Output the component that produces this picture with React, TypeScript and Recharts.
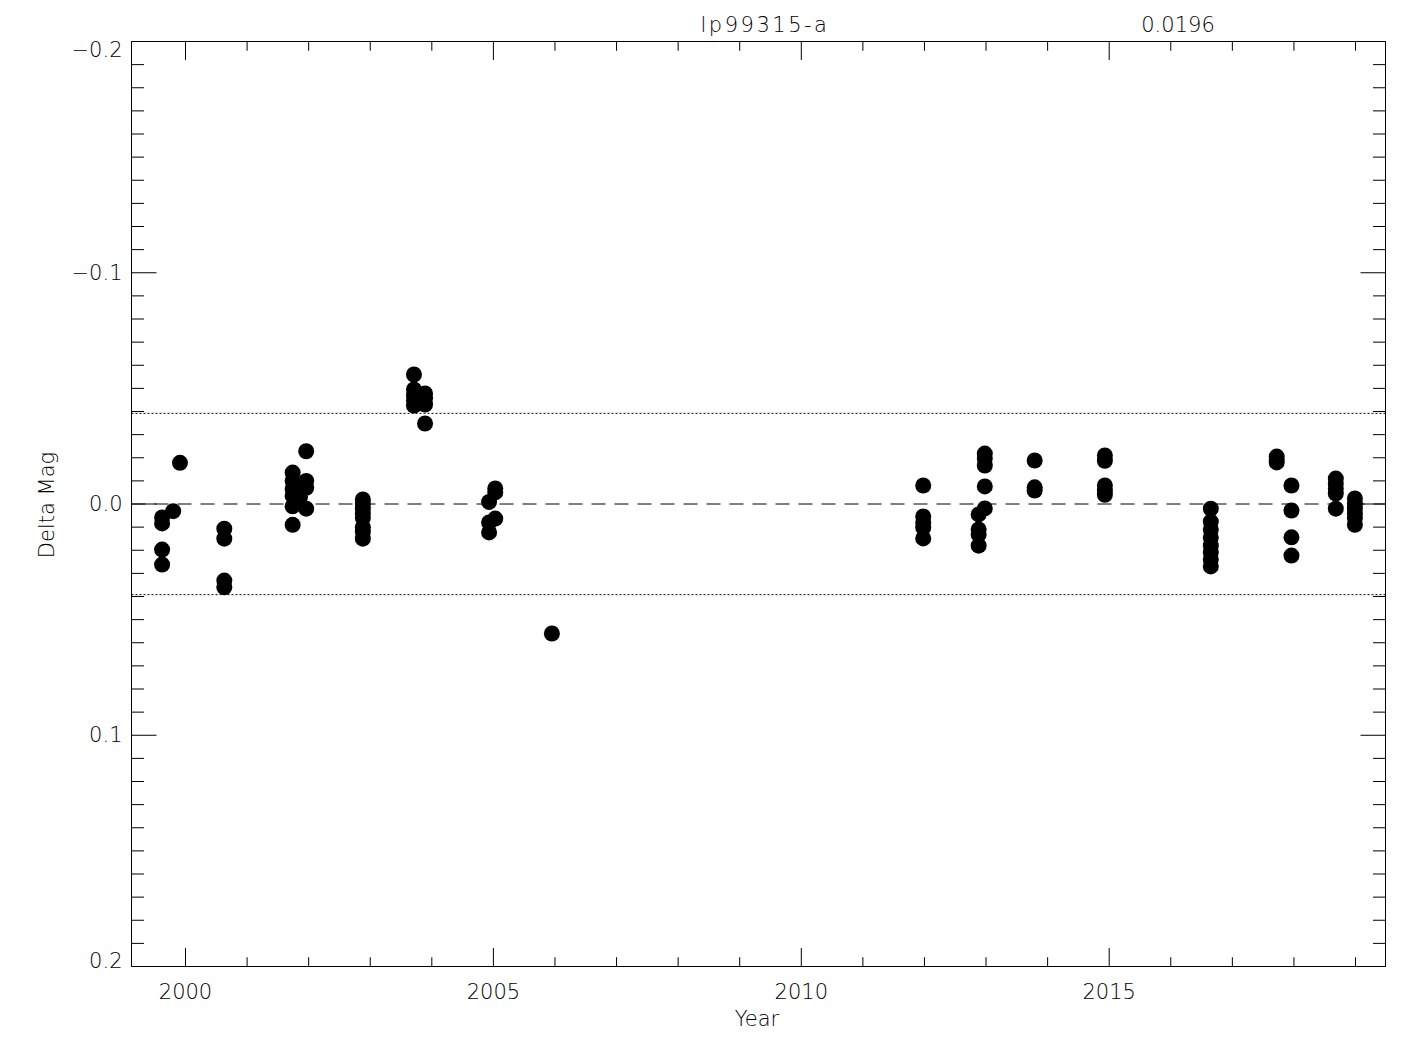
import React from 'react';
import { ScatterChart, Scatter, XAxis, YAxis, ReferenceLine } from 'recharts';

const YEARS: number[] = [
  1999.62, 1999.62, 1999.62, 1999.62,
  1999.80, 1999.91,
  2000.63, 2000.63, 2000.63, 2000.63,
  2001.74, 2001.74, 2001.74, 2001.74, 2001.74, 2001.74,
  2001.86,
  2001.96, 2001.96, 2001.96, 2001.96,
  2002.88, 2002.88, 2002.88, 2002.88, 2002.88, 2002.88, 2002.88, 2002.88,
  2003.71, 2003.71, 2003.71, 2003.71, 2003.71,
  2003.89, 2003.89, 2003.89, 2003.89,
  2004.93, 2004.93, 2004.93,
  2005.03, 2005.03, 2005.03,
  2005.95,
  2011.98, 2011.98, 2011.98, 2011.98, 2011.98,
  2012.98, 2012.98, 2012.98, 2012.98, 2012.98,
  2012.88, 2012.88, 2012.88, 2012.88,
  2013.79, 2013.79, 2013.79,
  2014.93, 2014.93, 2014.93, 2014.93, 2014.93,
  2016.65, 2016.65, 2016.65, 2016.65, 2016.65, 2016.65, 2016.65, 2016.65,
  2017.72, 2017.72, 2017.72,
  2017.96, 2017.96, 2017.96, 2017.96,
  2018.68, 2018.68, 2018.68, 2018.68, 2018.68,
  2018.99, 2018.99, 2018.99, 2018.99, 2018.99, 2018.99,
];

const DELTA_MAG: number[] = [
  0.0058, 0.0084, 0.0197, 0.0262,
  0.0031, -0.0178,
  0.0107, 0.0150, 0.0331, 0.0360,
  -0.0136, -0.0100, -0.0065, -0.0035, 0.0010, 0.0090,
  -0.0030,
  -0.0228, -0.0100, -0.0070, 0.0020,
  -0.0020, 0.0000, 0.0020, 0.0040, 0.0060, 0.0100, 0.0120, 0.0150,
  -0.0560, -0.0495, -0.0469, -0.0448, -0.0426,
  -0.0478, -0.0456, -0.0430, -0.0348,
  -0.0009, 0.0080, 0.0123,
  -0.0067, -0.0050, 0.0063,
  0.0560,
  -0.0080, 0.0054, 0.0080, 0.0102, 0.0149,
  -0.0218, -0.0197, -0.0166, -0.0076, 0.0019,
  0.0045, 0.0110, 0.0132, 0.0180,
  -0.0188, -0.0072, -0.0058,
  -0.0210, -0.0187, -0.0080, -0.0058, -0.0040,
  0.0020, 0.0076, 0.0110, 0.0145, 0.0180, 0.0210, 0.0240, 0.0270,
  -0.0205, -0.0190, -0.0180,
  -0.0080, 0.0028, 0.0144, 0.0223,
  -0.0110, -0.0089, -0.0067, -0.0045, 0.0020,
  -0.0024, 0.0000, 0.0020, 0.0040, 0.0060, 0.0090,
];

const X_DOMAIN: [number, number] = [1999.123, 2019.487];
const Y_DOMAIN: [number, number] = [-0.2, 0.2];
const X_TICKS: number[] = [
  2000, 2001, 2002, 2003, 2004, 2005, 2006, 2007, 2008, 2009,
  2010, 2011, 2012, 2013, 2014, 2015, 2016, 2017, 2018, 2019,
];
const X_MAJOR: number[] = [2000, 2005, 2010, 2015];
const Y_MAJOR: number[] = [-0.2, -0.1, 0, 0.1, 0.2];
const Y_TICKS: number[] = Array.from({ length: 41 }, (_, i) => (i - 20) / 100);
const SIGMA = 0.0196;
const TITLE = 'lp99315-a';
const SIGMA_LABEL = '0.0196';
const X_LABEL = 'Year';
const Y_LABEL = 'Delta Mag';

const data = YEARS.map((x, i) => ({ x, y: DELTA_MAG[i] }));

const FONT = '"DejaVu Sans", sans-serif';
const FS = 21;
const FW = 200;

const isMajorY = (v: number) => Y_MAJOR.some((m) => Math.abs(m - v) < 1e-9);
const isMajorX = (v: number) => X_MAJOR.some((m) => Math.abs(m - v) < 1e-9);
const fmtY = (v: number) => {
  const s = Math.abs(v).toFixed(1);
  return v < -1e-9 ? '\u2212' + s : s;
};

const X_MAJOR_LEN = 18.5;
const X_MINOR_LEN = 9.25;
const Y_MAJOR_LEN = 25;
const Y_MINOR_LEN = 12.5;

const BottomTick = (props: any) => {
  const { x, y, payload } = props;
  const v = payload.value;
  const major = isMajorX(v);
  return (
    <g>
      <line x1={x} y1={y} x2={x} y2={y - (major ? X_MAJOR_LEN : X_MINOR_LEN)} stroke="#000" strokeWidth={1} />
      {major && (
        <text x={x} y={y + 25} textAnchor="middle" dominantBaseline="central" fontFamily={FONT} fontSize={FS} fontWeight={FW} fill="#000">
          {String(v)}
        </text>
      )}
    </g>
  );
};

const TopTick = (props: any) => {
  const { x, y, payload } = props;
  const major = isMajorX(payload.value);
  return <line x1={x} y1={y} x2={x} y2={y + (major ? X_MAJOR_LEN : X_MINOR_LEN)} stroke="#000" strokeWidth={1} />;
};

const LeftTick = (props: any) => {
  const { x, y, payload } = props;
  const v = payload.value;
  const major = isMajorY(v);
  const dy = Math.abs(v - Y_DOMAIN[0]) < 1e-9 ? 8 : Math.abs(v - Y_DOMAIN[1]) < 1e-9 ? -6 : 0;
  return (
    <g>
      <line x1={x} y1={y} x2={x + (major ? Y_MAJOR_LEN : Y_MINOR_LEN)} y2={y} stroke="#000" strokeWidth={1} />
      {major && (
        <text x={x - 9} y={y + dy} textAnchor="end" dominantBaseline="central" fontFamily={FONT} fontSize={FS} fontWeight={FW} fill="#000">
          {fmtY(v)}
        </text>
      )}
    </g>
  );
};

const RightTick = (props: any) => {
  const { x, y, payload } = props;
  const major = isMajorY(payload.value);
  return <line x1={x} y1={y} x2={x - (major ? Y_MAJOR_LEN : Y_MINOR_LEN)} y2={y} stroke="#000" strokeWidth={1} />;
};

const Dot = (props: any) => {
  const { cx, cy } = props;
  if (cx == null || cy == null) return null;
  return <circle cx={cx} cy={cy} r={8} fill="#000" />;
};

const textStyle: React.CSSProperties = {
  position: 'absolute',
  fontFamily: FONT,
  fontSize: FS,
  fontWeight: FW,
  color: '#000',
  whiteSpace: 'nowrap',
  lineHeight: 1,
};

export default function App() {
  return (
    <div style={{ position: 'absolute', left: 0, top: 0, width: 1425, height: 1050, background: '#fff' }}>
      <ScatterChart width={1425} height={1050} margin={{ top: 31.5, right: 29.5, bottom: 43.5, left: 71.5 }}>
        <XAxis
          xAxisId="bottom"
          dataKey="x"
          type="number"
          orientation="bottom"
          domain={X_DOMAIN}
          allowDataOverflow
          ticks={X_TICKS}
          interval={0}
          height={40}
          tickSize={0}
          tickMargin={0}
          tickLine={false}
          axisLine={{ stroke: '#000', strokeWidth: 1 }}
          tick={<BottomTick />}
        />
        <XAxis
          xAxisId="top"
          dataKey="x"
          type="number"
          orientation="top"
          domain={X_DOMAIN}
          allowDataOverflow
          ticks={X_TICKS}
          interval={0}
          height={10}
          tickSize={0}
          tickMargin={0}
          tickLine={false}
          axisLine={{ stroke: '#000', strokeWidth: 1 }}
          tick={<TopTick />}
        />
        <YAxis
          yAxisId="left"
          dataKey="y"
          type="number"
          orientation="left"
          domain={Y_DOMAIN}
          reversed
          allowDataOverflow
          ticks={Y_TICKS}
          interval={0}
          width={60}
          tickSize={0}
          tickMargin={0}
          tickLine={false}
          axisLine={{ stroke: '#000', strokeWidth: 1 }}
          tick={<LeftTick />}
        />
        <YAxis
          yAxisId="right"
          dataKey="y"
          type="number"
          orientation="right"
          domain={Y_DOMAIN}
          reversed
          allowDataOverflow
          ticks={Y_TICKS}
          interval={0}
          width={10}
          tickSize={0}
          tickMargin={0}
          tickLine={false}
          axisLine={{ stroke: '#000', strokeWidth: 1 }}
          tick={<RightTick />}
        />
        <ReferenceLine xAxisId="bottom" yAxisId="left" y={0} stroke="#000" strokeWidth={1} strokeDasharray="14 9" />
        <ReferenceLine xAxisId="bottom" yAxisId="left" y={-2 * SIGMA} stroke="#000" strokeWidth={1} strokeDasharray="2 2" />
        <ReferenceLine xAxisId="bottom" yAxisId="left" y={2 * SIGMA} stroke="#000" strokeWidth={1} strokeDasharray="2 2" />
        <Scatter xAxisId="bottom" yAxisId="left" data={data} fill="#000" shape={<Dot />} isAnimationActive={false} />
      </ScatterChart>
      <div style={{ ...textStyle, left: 765, top: 25, letterSpacing: 2.5, transform: 'translate(-50%, -50%)' }}>{TITLE}</div>
      <div style={{ ...textStyle, left: 1178, top: 25, transform: 'translate(-50%, -50%)' }}>{SIGMA_LABEL}</div>
      <div style={{ ...textStyle, left: 757, top: 1019, transform: 'translate(-50%, -50%)' }}>{X_LABEL}</div>
      <div style={{ ...textStyle, left: 47, top: 505, transform: 'translate(-50%, -50%) rotate(-90deg)' }}>{Y_LABEL}</div>
    </div>
  );
}
